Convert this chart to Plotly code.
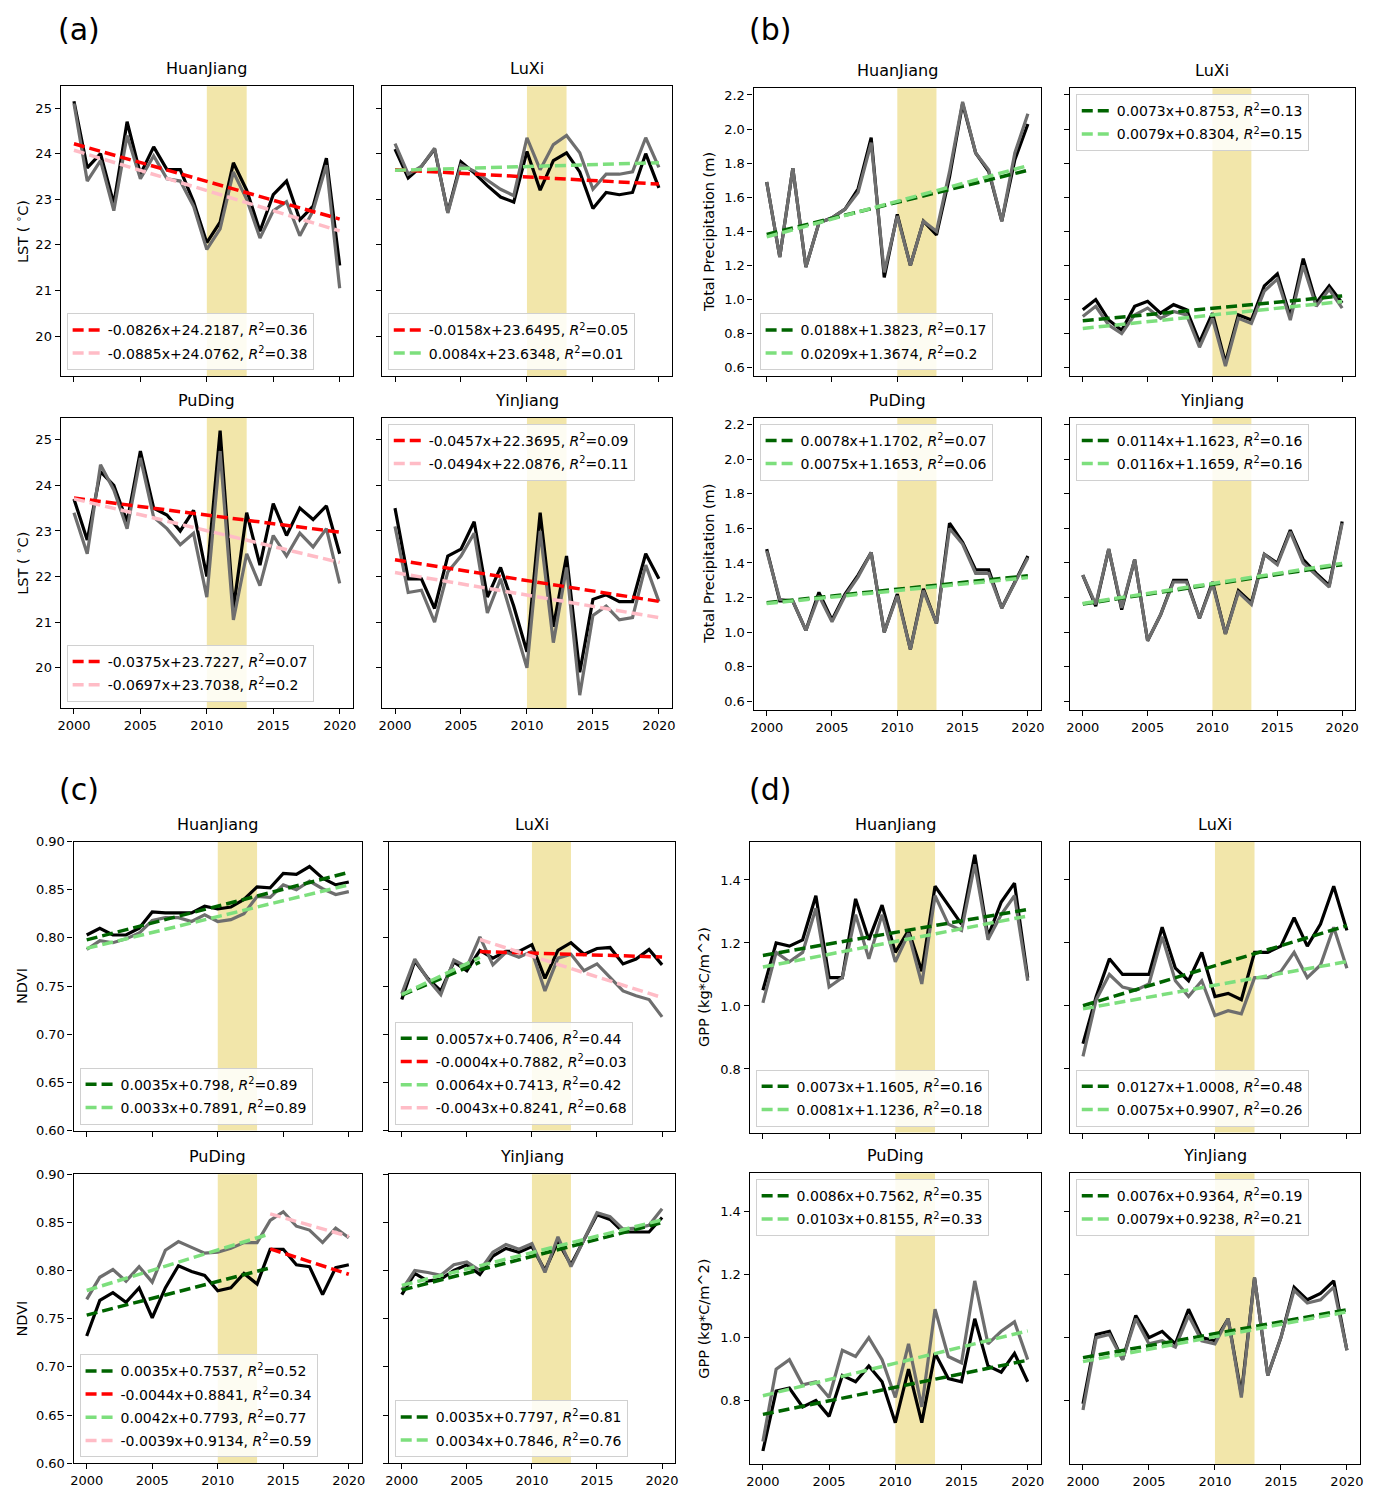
import plotly.graph_objects as go

W, H = 1382, 1495
FONT = "DejaVu Sans"
YEARS = list(range(2000, 2021))
BAND_START, BAND_END = 2010, 2013
X_TICKS = [2000, 2005, 2010, 2015, 2020]

# ---------------- (a) LST ----------------
LST_HJ_BLACK = [25.15, 23.69, 24.0, 22.9, 24.7, 23.55, 24.15, 23.65, 23.65, 22.95, 22.05, 22.5, 23.8, 23.2, 22.3, 23.1, 23.4, 22.55, 22.85, 23.9, 21.55]
LST_HJ_GRAY = [25.1, 23.4, 23.85, 22.75, 24.4, 23.45, 23.95, 23.45, 23.4, 22.85, 21.9, 22.35, 23.6, 23.0, 22.15, 22.75, 22.95, 22.2, 22.75, 23.75, 21.05]
LST_LX_BLACK = [24.1, 23.47, 23.72, 24.1, 22.72, 23.82, 23.58, 23.3, 23.05, 22.94, 24.05, 23.2, 23.85, 24.02, 23.6, 22.8, 23.15, 23.1, 23.15, 24.0, 23.25]
LST_LX_GRAY = [24.22, 23.55, 23.72, 24.12, 22.7, 23.75, 23.62, 23.42, 23.22, 23.08, 24.35, 23.65, 24.2, 24.4, 24.02, 23.22, 23.55, 23.55, 23.6, 24.35, 23.7]
LST_PD_BLACK = [23.7, 22.8, 24.3, 24.0, 23.2, 24.75, 23.5, 23.35, 23.0, 23.45, 22.0, 25.2, 21.3, 23.4, 22.25, 23.6, 22.9, 23.5, 23.25, 23.55, 22.5]
LST_PD_GRAY = [23.4, 22.5, 24.45, 23.9, 23.05, 24.6, 23.3, 23.05, 22.7, 22.95, 21.55, 24.75, 21.05, 22.5, 21.8, 22.9, 22.45, 22.95, 22.65, 23.05, 21.85]
LST_YJ_BLACK = [23.5, 21.95, 21.95, 21.3, 22.45, 22.6, 23.2, 21.55, 22.2, 21.35, 20.35, 23.4, 20.9, 22.45, 19.9, 21.5, 21.6, 21.45, 21.45, 22.5, 21.95]
LST_YJ_GRAY = [23.1, 21.65, 21.7, 21.0, 22.1, 22.45, 22.95, 21.2, 21.95, 21.0, 20.0, 23.0, 20.55, 22.2, 19.4, 21.15, 21.35, 21.05, 21.1, 22.25, 21.45]

# ---------------- (b) Precipitation ----------------
P_HJ_BLACK = [1.69, 1.25, 1.77, 1.19, 1.45, 1.48, 1.53, 1.65, 1.95, 1.13, 1.50, 1.20, 1.46, 1.38, 1.72, 2.15, 1.86, 1.75, 1.46, 1.82, 2.03]
P_HJ_GRAY = [1.69, 1.25, 1.77, 1.19, 1.45, 1.48, 1.53, 1.63, 1.92, 1.16, 1.49, 1.20, 1.46, 1.40, 1.75, 2.16, 1.86, 1.76, 1.46, 1.86, 2.09]
P_LX_BLACK = [0.94, 1.00, 0.88, 0.82, 0.96, 0.99, 0.92, 0.97, 0.94, 0.75, 0.92, 0.63, 0.91, 0.88, 1.08, 1.15, 0.90, 1.24, 0.98, 1.08, 0.98]
P_LX_GRAY = [0.90, 0.96, 0.85, 0.80, 0.91, 0.95, 0.89, 0.93, 0.91, 0.72, 0.89, 0.61, 0.89, 0.86, 1.05, 1.12, 0.88, 1.20, 0.96, 1.06, 0.95]
P_PD_BLACK = [1.48, 1.18, 1.18, 1.01, 1.23, 1.07, 1.22, 1.33, 1.46, 1.00, 1.22, 0.90, 1.25, 1.05, 1.63, 1.52, 1.36, 1.36, 1.14, 1.29, 1.44]
P_PD_GRAY = [1.47, 1.19, 1.18, 1.01, 1.21, 1.06, 1.21, 1.32, 1.46, 1.00, 1.21, 0.90, 1.24, 1.05, 1.60, 1.51, 1.34, 1.34, 1.14, 1.29, 1.43]
P_YJ_BLACK = [1.33, 1.15, 1.48, 1.13, 1.42, 0.95, 1.10, 1.30, 1.30, 1.08, 1.29, 0.99, 1.24, 1.17, 1.45, 1.40, 1.59, 1.42, 1.34, 1.27, 1.64]
P_YJ_GRAY = [1.33, 1.16, 1.48, 1.14, 1.42, 0.95, 1.10, 1.29, 1.29, 1.08, 1.28, 0.99, 1.23, 1.16, 1.45, 1.39, 1.58, 1.40, 1.33, 1.26, 1.63]

# ---------------- (c) NDVI ----------------
N_HJ_BLACK = [0.803, 0.810, 0.803, 0.803, 0.810, 0.827, 0.826, 0.826, 0.826, 0.833, 0.830, 0.832, 0.840, 0.853, 0.852, 0.867, 0.866, 0.874, 0.862, 0.855, 0.858]
N_HJ_GRAY = [0.788, 0.797, 0.795, 0.799, 0.805, 0.818, 0.821, 0.821, 0.817, 0.824, 0.817, 0.819, 0.825, 0.843, 0.842, 0.855, 0.850, 0.859, 0.851, 0.845, 0.848]
N_LX_BLACK = [0.736, 0.776, 0.758, 0.745, 0.775, 0.766, 0.787, 0.779, 0.786, 0.786, 0.793, 0.758, 0.787, 0.795, 0.783, 0.789, 0.790, 0.773, 0.778, 0.788, 0.772]
N_LX_GRAY = [0.742, 0.778, 0.757, 0.741, 0.777, 0.770, 0.801, 0.772, 0.785, 0.780, 0.786, 0.745, 0.779, 0.783, 0.766, 0.773, 0.759, 0.745, 0.740, 0.736, 0.718]
N_PD_BLACK = [0.732, 0.769, 0.777, 0.767, 0.782, 0.751, 0.782, 0.805, 0.799, 0.795, 0.779, 0.782, 0.797, 0.786, 0.822, 0.822, 0.806, 0.804, 0.775, 0.803, 0.806]
N_PD_GRAY = [0.770, 0.793, 0.801, 0.789, 0.804, 0.788, 0.821, 0.830, 0.824, 0.818, 0.819, 0.823, 0.829, 0.829, 0.852, 0.861, 0.846, 0.842, 0.829, 0.844, 0.834]
N_YJ_BLACK = [0.775, 0.797, 0.789, 0.791, 0.800, 0.806, 0.796, 0.815, 0.823, 0.819, 0.825, 0.800, 0.830, 0.806, 0.832, 0.858, 0.853, 0.840, 0.840, 0.840, 0.855]
N_YJ_GRAY = [0.780, 0.800, 0.798, 0.795, 0.806, 0.809, 0.800, 0.819, 0.827, 0.822, 0.828, 0.798, 0.835, 0.804, 0.832, 0.860, 0.856, 0.843, 0.844, 0.847, 0.864]

# ---------------- (d) GPP ----------------
G_HJ_BLACK = [1.05, 1.20, 1.19, 1.21, 1.35, 1.09, 1.09, 1.34, 1.21, 1.32, 1.17, 1.24, 1.11, 1.38, 1.32, 1.26, 1.48, 1.22, 1.33, 1.39, 1.09]
G_HJ_GRAY = [1.01, 1.17, 1.14, 1.17, 1.31, 1.06, 1.09, 1.29, 1.15, 1.29, 1.14, 1.23, 1.07, 1.35, 1.26, 1.24, 1.45, 1.21, 1.29, 1.35, 1.08]
G_LX_BLACK = [0.88, 1.03, 1.15, 1.10, 1.10, 1.10, 1.25, 1.12, 1.08, 1.17, 1.03, 1.04, 1.02, 1.17, 1.17, 1.19, 1.28, 1.19, 1.26, 1.38, 1.24]
G_LX_GRAY = [0.84, 1.02, 1.10, 1.06, 1.05, 1.07, 1.22, 1.08, 1.03, 1.08, 0.97, 0.985, 0.975, 1.09, 1.09, 1.11, 1.17, 1.09, 1.13, 1.25, 1.12]
G_PD_BLACK = [0.64, 0.83, 0.84, 0.78, 0.80, 0.75, 0.88, 0.86, 0.91, 0.86, 0.73, 0.90, 0.73, 0.95, 0.87, 0.86, 1.06, 0.91, 0.89, 0.95, 0.86]
G_PD_GRAY = [0.67, 0.90, 0.93, 0.85, 0.86, 0.81, 0.96, 0.94, 1.00, 0.93, 0.81, 0.98, 0.78, 1.09, 0.94, 0.92, 1.18, 0.98, 1.02, 1.05, 0.93]
G_YJ_BLACK = [0.79, 1.01, 1.02, 0.93, 1.07, 1.00, 1.02, 0.98, 1.09, 1.00, 0.99, 1.06, 0.82, 1.19, 0.88, 1.00, 1.16, 1.12, 1.14, 1.18, 0.96]
G_YJ_GRAY = [0.77, 1.00, 1.01, 0.93, 1.06, 0.98, 0.99, 0.97, 1.07, 0.99, 0.98, 1.06, 0.81, 1.19, 0.88, 1.00, 1.15, 1.11, 1.12, 1.16, 0.96]

# Trend lines: (role, slope, intercept, R2 text, first year, last year); x = year - 2000
LST_HJ_TREND = [("r", -0.0826, 24.2187, "0.36", 2000, 2020), ("p", -0.0885, 24.0762, "0.38", 2000, 2020)]
LST_LX_TREND = [("r", -0.0158, 23.6495, "0.05", 2000, 2020), ("lg", 0.0084, 23.6348, "0.01", 2000, 2020)]
LST_PD_TREND = [("r", -0.0375, 23.7227, "0.07", 2000, 2020), ("p", -0.0697, 23.7038, "0.2", 2000, 2020)]
LST_YJ_TREND = [("r", -0.0457, 22.3695, "0.09", 2000, 2020), ("p", -0.0494, 22.0876, "0.11", 2000, 2020)]
P_HJ_TREND = [("dg", 0.0188, 1.3823, "0.17", 2000, 2020), ("lg", 0.0209, 1.3674, "0.2", 2000, 2020)]
P_LX_TREND = [("dg", 0.0073, 0.8753, "0.13", 2000, 2020), ("lg", 0.0079, 0.8304, "0.15", 2000, 2020)]
P_PD_TREND = [("dg", 0.0078, 1.1702, "0.07", 2000, 2020), ("lg", 0.0075, 1.1653, "0.06", 2000, 2020)]
P_YJ_TREND = [("dg", 0.0114, 1.1623, "0.16", 2000, 2020), ("lg", 0.0116, 1.1659, "0.16", 2000, 2020)]
N_HJ_TREND = [("dg", 0.0035, 0.798, "0.89", 2000, 2020), ("lg", 0.0033, 0.7891, "0.89", 2000, 2020)]
N_LX_TREND = [("dg", 0.0057, 0.7406, "0.44", 2000, 2006), ("r", -0.0004, 0.7882, "0.03", 2006, 2020),
              ("lg", 0.0064, 0.7413, "0.42", 2000, 2006), ("p", -0.0043, 0.8241, "0.68", 2006, 2020)]
N_PD_TREND = [("dg", 0.0035, 0.7537, "0.52", 2000, 2014), ("r", -0.0044, 0.8841, "0.34", 2014, 2020),
              ("lg", 0.0042, 0.7793, "0.77", 2000, 2014), ("p", -0.0039, 0.9134, "0.59", 2014, 2020)]
N_YJ_TREND = [("dg", 0.0035, 0.7797, "0.81", 2000, 2020), ("lg", 0.0034, 0.7846, "0.76", 2000, 2020)]
G_HJ_TREND = [("dg", 0.0073, 1.1605, "0.16", 2000, 2020), ("lg", 0.0081, 1.1236, "0.18", 2000, 2020)]
G_LX_TREND = [("dg", 0.0127, 1.0008, "0.48", 2000, 2020), ("lg", 0.0075, 0.9907, "0.26", 2000, 2020)]
G_PD_TREND = [("dg", 0.0086, 0.7562, "0.35", 2000, 2020), ("lg", 0.0103, 0.8155, "0.33", 2000, 2020)]
G_YJ_TREND = [("dg", 0.0076, 0.9364, "0.19", 2000, 2020), ("lg", 0.0079, 0.9238, "0.21", 2000, 2020)]

TITLES = ["HuanJiang", "LuXi", "PuDing", "YinJiang"]
Y_LABELS = {"a": "LST ( <sup>∘</sup>C)", "b": "Total Precipitation (m)", "c": "NDVI", "d": "GPP (kg*C/m^2)"}
Y_TICKS = {"a": [20, 21, 22, 23, 24, 25],
           "b": [0.6, 0.8, 1.0, 1.2, 1.4, 1.6, 1.8, 2.0, 2.2],
           "c": [0.60, 0.65, 0.70, 0.75, 0.80, 0.85, 0.90],
           "d": [0.8, 1.0, 1.2, 1.4]}
Y_FMT = {"a": "d", "b": ".1f", "c": ".2f", "d": ".1f"}
Y_RANGE = {"a": [19.12, 25.48], "b": [0.55, 2.24], "c": [0.60, 0.90], "d": [0.598, 1.522]}

# subplot list: panel, row, col, black, gray, trends, legend location
SUBPLOTS = [
    ("a", 0, 0, LST_HJ_BLACK, LST_HJ_GRAY, LST_HJ_TREND, "ll"),
    ("a", 0, 1, LST_LX_BLACK, LST_LX_GRAY, LST_LX_TREND, "ll"),
    ("a", 1, 0, LST_PD_BLACK, LST_PD_GRAY, LST_PD_TREND, "ll"),
    ("a", 1, 1, LST_YJ_BLACK, LST_YJ_GRAY, LST_YJ_TREND, "ul"),
    ("b", 0, 0, P_HJ_BLACK, P_HJ_GRAY, P_HJ_TREND, "ll"),
    ("b", 0, 1, P_LX_BLACK, P_LX_GRAY, P_LX_TREND, "ul"),
    ("b", 1, 0, P_PD_BLACK, P_PD_GRAY, P_PD_TREND, "ul"),
    ("b", 1, 1, P_YJ_BLACK, P_YJ_GRAY, P_YJ_TREND, "ul"),
    ("c", 0, 0, N_HJ_BLACK, N_HJ_GRAY, N_HJ_TREND, "ll"),
    ("c", 0, 1, N_LX_BLACK, N_LX_GRAY, N_LX_TREND, "ll"),
    ("c", 1, 0, N_PD_BLACK, N_PD_GRAY, N_PD_TREND, "ll"),
    ("c", 1, 1, N_YJ_BLACK, N_YJ_GRAY, N_YJ_TREND, "ll"),
    ("d", 0, 0, G_HJ_BLACK, G_HJ_GRAY, G_HJ_TREND, "ll"),
    ("d", 0, 1, G_LX_BLACK, G_LX_GRAY, G_LX_TREND, "ll"),
    ("d", 1, 0, G_PD_BLACK, G_PD_GRAY, G_PD_TREND, "ul"),
    ("d", 1, 1, G_YJ_BLACK, G_YJ_GRAY, G_YJ_TREND, "ul"),
]

# ---------------- layout geometry (pixels) ----------------
COLS = {"a": [(57, 351), (380, 672)], "b": [(754, 1043), (1072, 1359)],
        "c": [(70, 360), (387, 675)], "d": [(750, 1043), (1072, 1364)]}
ROWS = {"a": [(80, 373), (415, 708)], "b": [(82, 373), (415, 710)],
        "c": [(843, 1135), (1179, 1471)], "d": [(843, 1137), (1178, 1472)]}
YLAB_X = {"a": 18, "b": 709, "c": 18, "d": 704}
PANEL_POS = {"a": (75, 23), "b": (770, 23), "c": (75, 790), "d": (770, 790)}

ROLE_COLOR = {"r": "#ff0000", "p": "#ffbcc6", "dg": "#006400", "lg": "#7ddf7d"}
BLACK = "#000000"
GRAY = "#6e6e6e"
BAND_COLOR = "#f2e6aa"

def px(x):
    return x / W

def py(y):
    return 1 - y / H

fig = go.Figure()
layout = dict(width=W, height=H, margin=dict(l=0, r=0, t=0, b=0),
              paper_bgcolor="white", plot_bgcolor="white",
              font=dict(family=FONT, size=13, color="black"))
annotations = []
shapes = []

for i, (panel, r, c, blk, gry, trends, loc) in enumerate(SUBPLOTS, start=1):
    x0, x1 = COLS[panel][c]
    y0, y1 = ROWS[panel][r]
    sfx = "" if i == 1 else str(i)
    xref, yref = "x" + sfx, "y" + sfx
    axis_common = dict(showline=True, linecolor="black", linewidth=1.3, mirror=True,
                       ticks="outside", ticklen=5, tickwidth=1.2, tickcolor="black",
                       showgrid=False, zeroline=False,
                       tickfont=dict(family=FONT, size=13, color="black"))
    layout["xaxis" + sfx] = dict(domain=[px(x0), px(x1)], anchor=yref, range=[1999, 2021],
                                 tickvals=X_TICKS, showticklabels=(r == 1), **axis_common)
    layout["yaxis" + sfx] = dict(domain=[py(y1), py(y0)], anchor=xref, range=Y_RANGE[panel],
                                 tickvals=Y_TICKS[panel], tickformat=Y_FMT[panel],
                                 showticklabels=(c == 0), **axis_common)
    shapes.append(dict(type="rect", xref=xref, yref=yref + " domain", x0=BAND_START, x1=BAND_END,
                       y0=0, y1=1, fillcolor=BAND_COLOR, line=dict(width=0), layer="below"))
    fig.add_trace(go.Scatter(x=YEARS, y=blk, mode="lines", line=dict(color=BLACK, width=3.2),
                             xaxis=xref, yaxis=yref, showlegend=False, hoverinfo="skip"))
    fig.add_trace(go.Scatter(x=YEARS, y=gry, mode="lines", line=dict(color=GRAY, width=3.2),
                             xaxis=xref, yaxis=yref, showlegend=False, hoverinfo="skip"))
    leg = "legend" + sfx
    for k, (role, a, b, r2, ys, ye) in enumerate(trends):
        xs = [ys, ye]
        yv = [a * (ys - 2000) + b, a * (ye - 2000) + b]
        fig.add_trace(go.Scatter(x=xs, y=yv, mode="lines",
                                 line=dict(color=ROLE_COLOR[role], width=3.5, dash="11px,5px"),
                                 name=f"{a}x+{b}, <i>R</i><sup>2</sup>={r2}",
                                 legend=leg, legendgroup=f"g{i}_{k}", showlegend=True,
                                 xaxis=xref, yaxis=yref, hoverinfo="skip"))
    if loc == "ll":
        lx, ly, yanc = px(x0 + 6), py(y1 - 6), "bottom"
    else:
        lx, ly, yanc = px(x0 + 6), py(y0 + 6), "top"
    layout[leg] = dict(x=lx, y=ly, xanchor="left", yanchor=yanc,
                       bgcolor="rgba(255,255,255,0.85)", bordercolor="#d0d0d0", borderwidth=1,
                       font=dict(family=FONT, size=14, color="black"),
                       itemwidth=30, traceorder="grouped", tracegroupgap=2)
    # subplot title
    annotations.append(dict(text=TITLES[r * 2 + c], x=px((x0 + x1) / 2), y=py(y0 - 6),
                            xref="paper", yref="paper", xanchor="center", yanchor="bottom",
                            showarrow=False, font=dict(family=FONT, size=16, color="black")))
    if c == 0:
        annotations.append(dict(text=Y_LABELS[panel], x=px(YLAB_X[panel]), y=py((y0 + y1) / 2),
                                xref="paper", yref="paper", xanchor="center", yanchor="middle",
                                textangle=-90, showarrow=False,
                                font=dict(family=FONT, size=14.5, color="black")))

for panel, (cx, cy) in PANEL_POS.items():
    annotations.append(dict(text=f"({panel})", x=px(cx), y=py(cy), xref="paper", yref="paper",
                            xanchor="center", yanchor="middle", showarrow=False,
                            font=dict(family=FONT, size=30, color="black")))

layout["annotations"] = annotations
layout["shapes"] = shapes
fig.update_layout(**layout)
fig.write_html("out.html", config={"displayModeBar": False},
               post_script="document.body.style.margin='0px';document.body.style.overflow='hidden';")
